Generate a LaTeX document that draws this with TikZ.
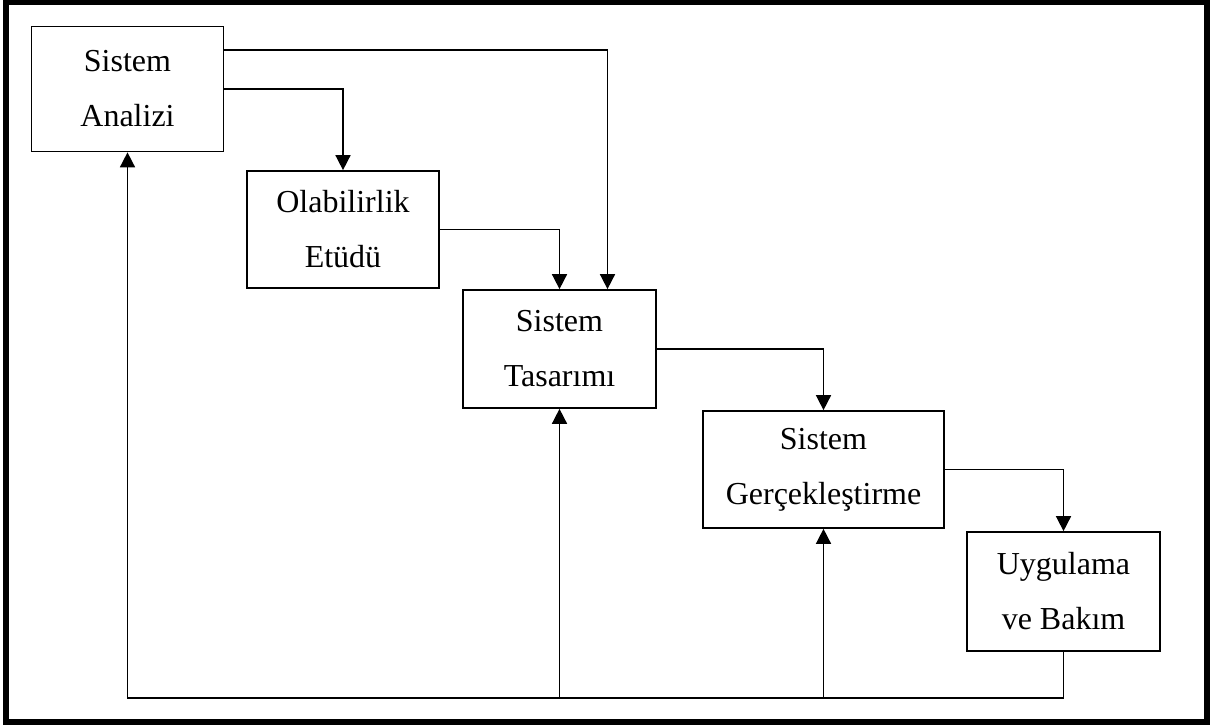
\documentclass[tikz,border=0pt]{standalone}
\usepackage{fontspec}
\setmainfont{Liberation Serif}
\usepackage{tikz}
\usetikzlibrary{arrows.meta}

\begin{document}
\begin{tikzpicture}[x=0.5pt, y=-0.5pt,
  every node/.style={rectangle, draw, line width=0.85pt, align=center, inner sep=0pt,
    font=\fontsize{16}{27.5}\selectfont},
  arr/.style={line width=0.8pt, -{Triangle[length=7.5pt, width=7.5pt]}}]
  \useasboundingbox (0,0) rectangle (1213,726);
  \draw[line width=3pt] (6,2.5) rectangle (1207,721.5);

  \node[minimum width=96pt, minimum height=62.5pt] (sa) at (127.5,89) {Sistem\\Analizi};
  \node[minimum width=96pt, minimum height=58.5pt] (oe) at (343,229.5) {Olabilirlik\\Etüdü};
  \node[minimum width=96.5pt, minimum height=59pt] (st) at (559.5,349) {Sistem\\Tasarımı};
  \node[minimum width=120.5pt, minimum height=58.5pt] (sg) at (823.5,469.5) {Sistem\\Gerçekleştirme};
  \node[minimum width=96.5pt, minimum height=59.5pt] (ub) at (1063.5,591.5) {Uygulama\\ve Bakım};
  \coordinate (fb) at (1063.5,698);

  \draw[arr] ([yshift=19.5pt]sa.east) -| ([xshift=24pt]st.north);
  \draw[arr] (sa.east) -| (oe.north);
  \draw[arr] (oe.east) -| (st.north);
  \draw[arr] (st.east) -| (sg.north);
  \draw[arr] (sg.east) -| (ub.north);
  \draw[arr] (ub.south) |- (sa.south |- fb) -- (sa.south);
  \draw[arr] (st.south |- fb) -- (st.south);
  \draw[arr] (sg.south |- fb) -- (sg.south);
\end{tikzpicture}
\end{document}
